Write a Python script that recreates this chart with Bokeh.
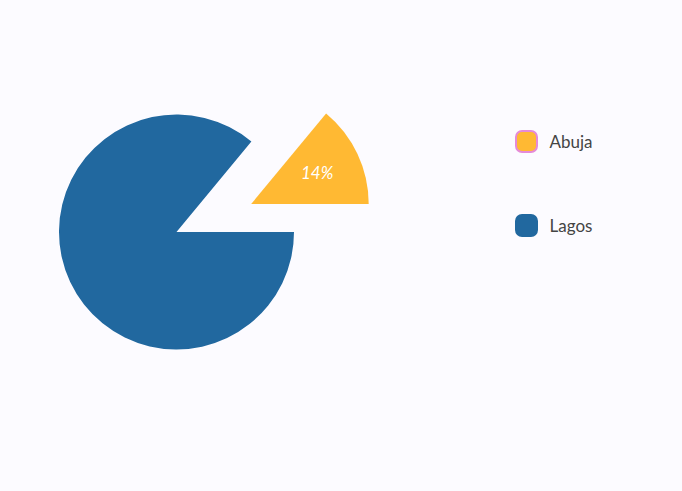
import math
from bokeh.plotting import figure
from bokeh.models import ColumnDataSource, BoxAnnotation, Label, Range1d
from bokeh.embed import file_html
from bokeh.resources import INLINE

# data
cities = ["Abuja", "Lagos"]
shares = [14, 86]
colors = ["#ffb933", "#21689f"]
legend_borders = ["#e58ad8", "#21689f"]

W, H = 682, 491
BG = "#fcfbff"

p = figure(width=W, height=H, output_backend="svg", toolbar_location=None,
           x_range=Range1d(0, W), y_range=Range1d(0, H), min_border=0,
           background_fill_color=BG, border_fill_color=BG, outline_line_color=None)
p.axis.visible = False
p.grid.visible = False

def sx(x):  # screen px -> data x
    return x
def sy(y):  # screen px -> data y
    return H - y

cx, cy, r = sx(176), sy(231.5), 117.5
explode = [(74.7, 28.0), (0.0, 0.0)]

total = sum(shares)
start = 0.0
starts, ends, xs, ys = [], [], [], []
for v, (ex, ey) in zip(shares, explode):
    a = v / total * 2 * math.pi
    starts.append(start)
    ends.append(start + a)
    xs.append(cx + ex)
    ys.append(cy + ey)
    start += a

src = ColumnDataSource(dict(x=xs, y=ys, start=starts, end=ends, color=colors, city=cities))
p.wedge(x="x", y="y", radius=r, start_angle="start", end_angle="end",
        fill_color="color", line_color=None, source=src)

# percentage label on small slice
mid = (starts[0] + ends[0]) / 2
lr = r * 0.62
p.add_layout(Label(x=xs[0] + lr * math.cos(mid), y=ys[0] + lr * math.sin(mid),
                   text=f"{shares[0]}%", text_color="white", text_font="Lato",
                   text_font_style="italic", text_font_size="17px",
                   text_align="center", text_baseline="middle"))

# legend
leg_y = [141, 225]
for name, col, bcol, yy in zip(cities, colors, legend_borders, leg_y):
    p.add_layout(BoxAnnotation(left=sx(515.5), right=sx(536.5), top=sy(yy - 10.5), bottom=sy(yy + 10.5),
                               fill_color=col, fill_alpha=1, line_color=bcol, line_width=2,
                               line_alpha=1, border_radius=6))
    p.add_layout(Label(x=sx(549), y=sy(yy), text=name, text_color="#444444",
                       text_font="Lato", text_font_size="17px",
                       text_baseline="middle", text_align="left"))

html = file_html(p, INLINE)
html = html.replace("<head>", "<head><style>body{background:%s;}</style>" % BG, 1)
open("out.html", "w").write(html)
